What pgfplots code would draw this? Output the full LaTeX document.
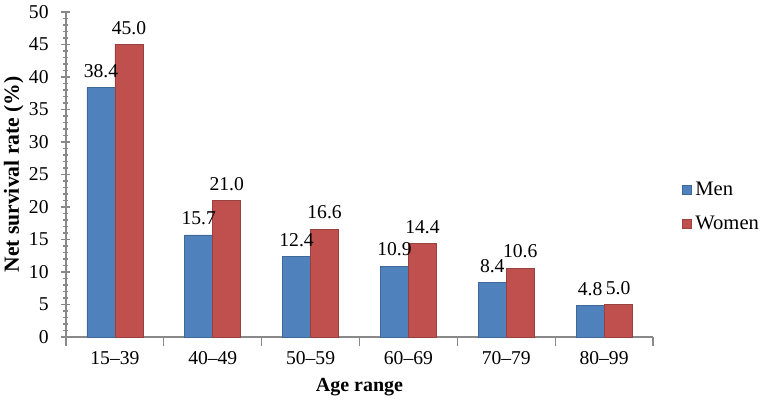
\documentclass[border=0pt]{standalone}
\usepackage{fontspec}
\setmainfont{Liberation Serif}
\usepackage{pgfplots}
\pgfplotsset{compat=1.18}
\definecolor{menblue}{HTML}{4F81BD}
\definecolor{womenred}{HTML}{C0504D}
\definecolor{axgray}{HTML}{898989}
\begin{document}
\fontsize{9.8}{11}\selectfont
\begin{tikzpicture}
\path[use as bounding box] (0,0) rectangle (382.5pt,202pt);
\begin{axis}[
  at={(33pt,33.5pt)}, anchor=south west,
  scale only axis, width=293.5pt, height=162.5pt,
  font=\fontsize{9.8}{11}\selectfont,
  /pgf/number format/assume math mode=true,
  ybar=0pt, bar width=14pt,
  xmin=-0.5, xmax=5.5, ymin=0, ymax=50,
  xtick={-0.5,0.5,...,5.5},
  xticklabels={15–39,40–49,50–59,60–69,70–79,80–99,{}},
  x tick label style={xshift=24.46pt, yshift=-1.5pt},
  xtick style={yshift=-2pt},
  ytick={0,5,...,50}, minor y tick num=4,
  y tick label style={xshift=-3pt},
  tick align=center, major tick length=4.5pt, minor tick length=2.5pt,
  axis lines*=left,
  axis line style={axgray, line width=0.6pt},
  tick style={axgray, line width=0.6pt},
  xlabel={\bfseries Age range},
  xlabel style={font=\fontsize{10}{12}\selectfont},
  ylabel={\bfseries Net survival rate (\%)},
  ylabel style={font=\fontsize{10.8}{12}\selectfont, at={(axis description cs:-0.089,0.5)}, anchor=center},
  nodes near coords={\pgfmathprintnumber[fixed,fixed zerofill,precision=1]{\pgfplotspointmeta}},
  every node near coord/.append style={font=\fontsize{9.8}{11}\selectfont, yshift=1.5pt, black},
  legend style={at={(1.048,0.40)}, anchor=west, draw=none, fill=none,
    row sep=4.5pt, inner sep=0pt, font=\fontsize{10.3}{12}\selectfont},
  legend cell align=left,
  legend image code/.code={\fill[#1] (0pt,-2.25pt) rectangle (4.5pt,2.25pt);},
]
\addplot[fill=menblue, draw=menblue!80!black] coordinates {(0,38.4)(1,15.7)(2,12.4)(3,10.9)(4,8.4)(5,4.8)};
\addplot[fill=womenred, draw=womenred!80!black] coordinates {(0,45.0)(1,21.0)(2,16.6)(3,14.4)(4,10.6)(5,5.0)};
\legend{Men,Women}
\end{axis}
\end{tikzpicture}
\end{document}
